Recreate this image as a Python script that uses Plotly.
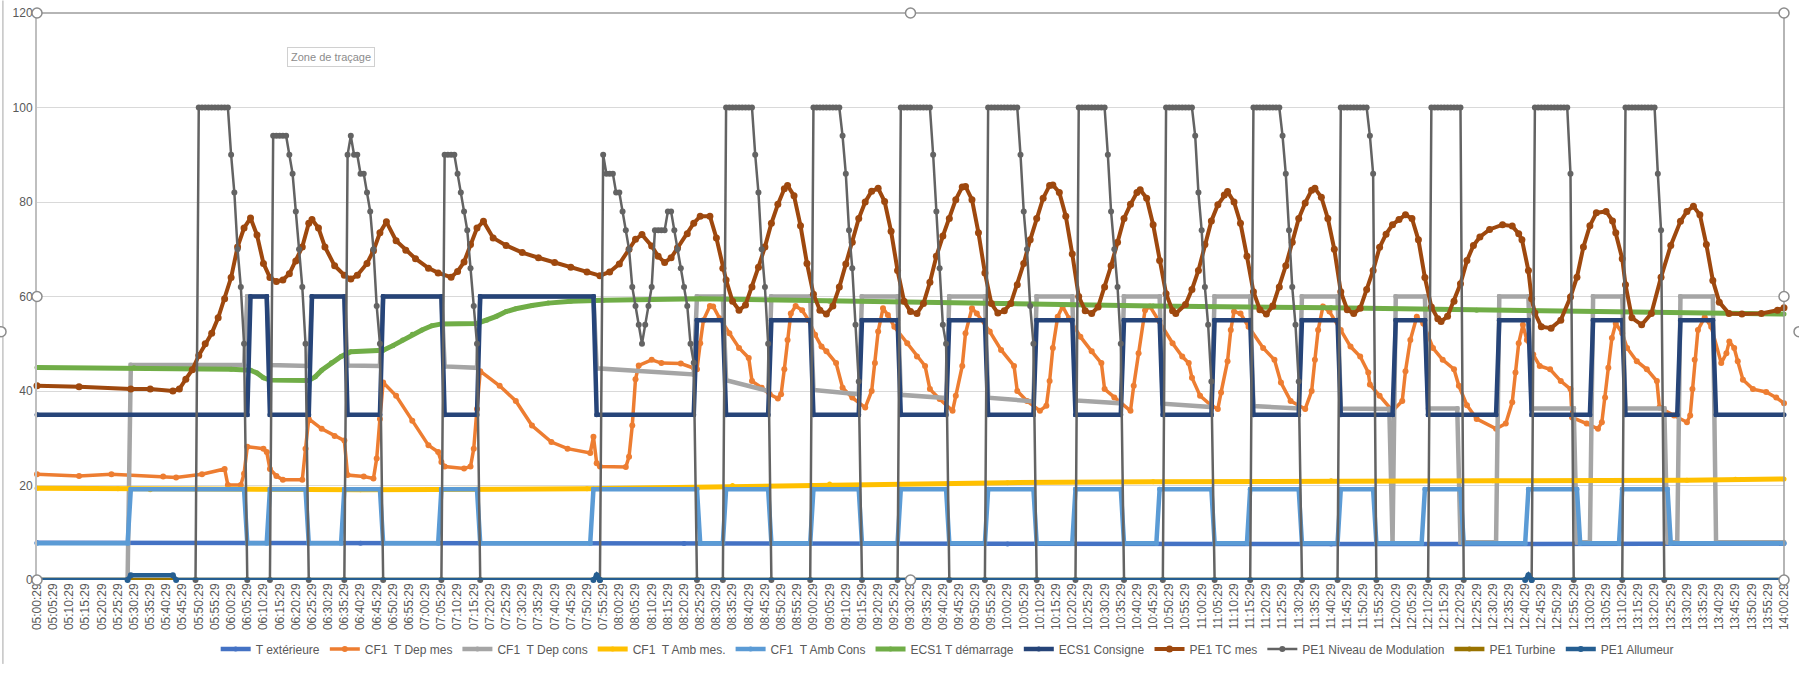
"""Courbes chaufferie 05:00 -> 14:00, rendu type Excel avec Plotly."""
import plotly.graph_objects as go

# ── Axe des temps : minutes depuis 05:00:29, une etiquette toutes les 5 min ──
T_MAX = 540
tick_minutes = list(range(0, T_MAX + 1, 5))
tick_labels = [f"{5 + m // 60:02d}:{m % 60:02d}:29" for m in tick_minutes]

# ── Donnees (t en minutes, valeurs en °C / %) ──
text_t = [0, 100, 200, 300, 400, 540]
text_v = [7.9, 7.8, 7.7, 7.6, 7.6, 7.7]

dep_mes_t = [0, 13, 23, 39, 43, 51, 58, 59, 63, 64, 65, 70, 71, 72, 74, 76, 82, 83, 84, 88,
             92, 95, 96, 101, 104, 105, 106, 107, 111, 116, 121, 124, 125, 126, 132, 134, 135,
             136, 137, 143, 148, 153, 159, 164, 171, 172, 173, 174, 182, 183, 184, 185, 186,
             190, 193, 199, 203, 204, 205, 206, 208, 209, 211, 214, 217, 220, 221, 224, 226.5,
             229, 230, 231, 232, 233, 234.5, 236.5, 238.5, 240.5, 242.5, 244, 247, 249, 252,
             256, 258, 259, 260, 261.5, 263, 265, 269, 272, 274.5, 276, 279, 283, 284, 286, 287,
             289, 290.5, 294.5, 298, 302, 303, 306, 310, 312, 313, 314, 315.5, 317, 319, 322.5,
             326, 329, 330, 333, 338, 339, 340.5, 342.5, 344, 347, 351, 354, 356, 357, 359.5,
             363, 365, 366, 368, 369, 370, 372, 374.5, 379, 382.5, 384.5, 387.5, 392, 394, 395,
             396, 397.5, 399.5, 403, 406, 409, 411.5, 412, 415, 419, 422, 423, 424.5, 426.5,
             428.5, 431.5, 434.5, 438, 439.5, 442, 445, 451, 454, 456, 457, 458, 459.3, 460.5,
             462.5, 464.5, 467.7, 471, 474, 474.5, 479, 482.5, 483.7, 484.7, 485.7, 486.8, 488,
             490, 491.5, 494.5, 497.6, 500.7, 501.5, 506, 510, 511, 511.7, 512.4, 513.4, 515.5,
             517.5, 520.6, 522.2, 523.1, 524.6, 525.7, 527.3, 530.4, 534.5, 537.6, 540]
dep_mes_v = [22.4, 22.0, 22.4, 21.9, 21.7, 22.4, 23.5, 20.1, 20.1, 22.5, 28.2, 27.8, 27.1, 23.5,
             22.0, 21.2, 21.2, 27.8, 34.1, 32.0, 30.5, 29.5, 22.2, 21.9, 21.5, 25.7, 34.1, 41.8,
             39.0, 33.7, 28.5, 27.1, 25.0, 24.0, 23.6, 24.0, 27.8, 36.2, 44.2, 41.1, 37.9, 32.7,
             29.2, 27.8, 26.9, 30.3, 24.7, 24.0, 23.9, 26.1, 32.7, 42.5, 45.4, 46.6, 45.9, 45.8,
             44.9, 44.6, 50.1, 55.0, 58.0, 57.9, 55.4, 52.2, 49.1, 47.0, 42.1, 40.7, 39.3, 38.4,
             39.3, 44.6, 50.8, 56.4, 58.0, 57.1, 55.0, 51.9, 49.4, 48.4, 45.9, 40.7, 38.6, 36.5,
             40.0, 45.9, 52.6, 57.5, 56.1, 53.6, 50.1, 47.3, 45.3, 40.4, 38.3, 35.8, 39.0, 45.3,
             52.2, 57.5, 56.4, 52.6, 48.7, 45.3, 40.0, 37.9, 35.8, 36.9, 42.1, 49.1, 55.7, 57.9,
             55.4, 51.5, 48.4, 45.9, 40.4, 38.6, 35.8, 41.1, 48.0, 57.1, 57.9, 54.7, 50.1, 47.3,
             45.9, 42.8, 39.0, 36.9, 36.2, 39.7, 46.3, 52.9, 56.8, 56.4, 53.6, 49.1, 46.6, 41.8,
             37.9, 36.2, 40.0, 46.6, 52.9, 57.9, 56.8, 52.9, 49.4, 47.3, 43.9, 41.4, 39.0, 35.8,
             37.9, 44.2, 50.8, 55.7, 54.3, 49.1, 46.6, 44.6, 41.1, 37.0, 34.1, 32.0, 33.1, 37.6,
             43.9, 50.1, 54.0, 50.8, 47.7, 45.3, 44.6, 42.1, 40.4, 34.4, 33.1, 32.0, 33.4, 38.6,
             44.9, 51.2, 54.3, 52.2, 49.1, 46.3, 44.6, 42.1, 36.5, 34.8, 33.4, 34.8, 40.4, 46.6,
             52.9, 55.6, 53.6, 45.9, 48.0, 50.5, 49.1, 46.3, 42.4, 40.4, 39.8, 38.6, 37.4]

# consigne de depart : paliers (debut, fin, valeur debut, valeur fin)
dep_cons_start = [0, 29, 65, 72, 85, 96, 107, 126, 137, 173, 204, 213, 227, 240, 255, 267, 282,
                  294, 309, 321, 336, 348, 364, 376, 391, 403, 419, 420, 430, 440, 452, 462,
                  476, 481, 491, 504, 508, 519]
dep_cons_end = [28, 64, 71, 84, 95, 106, 125, 136, 172, 203, 212, 226, 239, 254, 266, 281, 293,
                308, 320, 335, 347, 363, 375, 390, 402, 418, 419, 429, 439, 451, 461, 475, 480,
                490, 503, 507, 518, 540]
dep_cons_v0 = [0, 45.5, 60, 45.5, 60, 45.4, 60, 45.2, 60, 44.8, 60, 42.3, 60, 40.2, 60, 39.2,
               60, 38.6, 60, 38.0, 60, 37.3, 60, 36.8, 60, 36.3, 8, 60, 36.3, 8, 60, 36.3, 8,
               60, 36.3, 8, 60, 8]
dep_cons_v1 = [0, 45.5, 60, 45.3, 60, 45.3, 60, 44.9, 60, 43.5, 60, 40.0, 60, 39.3, 60, 38.5,
               60, 37.8, 60, 37.4, 60, 36.6, 60, 36.3, 60, 36.2, 8, 60, 36.3, 8, 60, 36.3, 8,
               60, 36.3, 8, 60, 8]

amb_mes_t = [0, 25, 35, 100, 170, 200, 215, 245, 300, 345, 400, 450, 510, 525, 540]
amb_mes_v = [19.4, 19.3, 19.1, 19.1, 19.3, 19.6, 20.0, 20.3, 20.6, 20.8, 21.0, 21.0, 21.1,
             21.3, 21.4]

amb_cons_start = [0, 29, 65, 72, 84, 95, 107, 125, 137, 172, 205, 213, 227, 240, 255, 267,
                  282, 294, 309, 321, 336, 347, 364, 375, 391, 403, 414, 429, 441, 461, 477,
                  490, 505]
amb_cons_end = [28, 64, 71, 83, 94, 106, 124, 136, 171, 204, 212, 226, 239, 254, 266, 281,
                293, 308, 320, 335, 346, 363, 374, 390, 402, 413, 428, 440, 460, 476, 489,
                504, 540]
amb_cons_val = [7.8, 19.2, 7.8, 19.2, 7.8, 19.2, 7.8, 19.2, 7.8, 19.2, 7.8, 19.2, 7.8, 19.2,
                7.8, 19.2, 7.8, 19.2, 7.8, 19.2, 7.8, 19.2, 7.8, 19.2, 7.8, 19.2, 7.8, 19.2,
                7.8, 19.2, 7.8, 19.2, 7.8]

ecs_dem_t = [0, 30, 60, 66, 68, 70, 72, 84, 86, 88, 91, 94, 97, 107, 110, 113, 116, 119, 122,
             125, 136, 139, 142, 145, 148, 153, 158, 165, 175, 205, 245, 300, 345, 400, 445,
             500, 540]
ecs_dem_v = [45.0, 44.9, 44.6, 44.4, 43.8, 42.8, 42.3, 42.2, 43.0, 44.4, 46.0, 47.3, 48.3,
             48.6, 49.6, 50.8, 52.0, 52.9, 53.8, 54.2, 54.3, 55.0, 55.8, 56.8, 57.4, 58.1,
             58.6, 59.0, 59.2, 59.5, 59.0, 58.5, 58.0, 57.6, 57.1, 56.7, 56.3]

ecs_cons_start = [0, 66, 72, 85, 96, 107, 126, 137, 173, 204, 213, 227, 240, 255, 267, 282,
                  294, 309, 321, 336, 348, 364, 376, 391, 403, 420, 430, 452, 462, 481, 491,
                  508, 519]
ecs_cons_end = [65, 71, 84, 95, 106, 125, 136, 172, 203, 212, 226, 239, 254, 266, 281, 293,
                308, 320, 335, 347, 363, 375, 390, 402, 419, 429, 451, 461, 480, 490, 507,
                518, 540]
ecs_cons_val = [35, 60, 35, 60, 35, 60, 35, 60, 35, 55, 35, 55, 35, 55, 35, 55, 35, 55, 35,
                55, 35, 55, 35, 55, 35, 55, 35, 55, 35, 55, 35, 55, 35]

tc_t = [0, 13, 29, 35, 42, 44, 46, 48, 50, 52, 54, 56, 58, 60, 62, 64, 66, 68, 70, 72, 74, 76,
        78, 80, 82, 84, 85, 87, 89, 92, 95, 97, 99, 102, 104, 106, 108, 111, 114, 117, 121,
        124, 128, 130, 132, 134, 136, 138, 141, 145, 150, 155, 160, 165, 170, 174, 177, 180,
        183, 185, 187, 190, 192, 194, 196, 198, 201, 203, 205, 208, 210, 212, 213, 215, 217,
        219, 221, 223, 225, 227, 229, 231, 232, 234, 236, 238, 240, 242, 244, 246, 248, 250,
        252, 254, 256, 258, 260, 262, 264, 266, 268, 270, 272, 274, 276, 278, 280, 282, 284,
        286, 287, 289, 291, 293, 295, 297, 299, 301, 303, 305, 307, 309, 311, 313, 314, 316,
        318, 320, 322, 324, 326, 328, 330, 332, 334, 336, 338, 340, 341, 343, 345, 347, 349,
        351, 352, 355, 357, 359, 361, 363, 365, 367, 368, 370, 372, 374, 376, 378, 380, 382,
        384, 386, 388, 390, 392, 394, 395, 397, 399, 401, 403, 405, 407, 409, 411, 413, 415,
        417, 419, 421, 423, 425, 427, 429, 431, 433, 434, 436, 438, 440, 442, 444, 446, 449,
        453, 456, 458, 459, 461, 462, 463, 465, 468, 471, 474, 476, 478, 480, 482, 485, 487,
        488, 490, 491, 493, 496, 499, 502, 505, 508, 510, 512, 514, 516, 518, 520, 523, 527,
        533, 538, 540]
tc_v = [41.1, 40.9, 40.4, 40.4, 40.0, 40.4, 42.5, 44.5, 47.5, 50.0, 52.2, 55.5, 59.5, 64.0,
        70.5, 74.5, 76.6, 73.0, 67.0, 64.0, 63.2, 63.5, 64.8, 67.5, 70.5, 75.5, 76.3, 74.5,
        70.5, 66.5, 64.5, 63.7, 64.5, 67.0, 69.7, 73.5, 75.8, 71.8, 69.8, 68.0, 66.0, 65.0,
        64.1, 65.3, 67.3, 71.0, 74.5, 75.9, 72.4, 70.8, 69.3, 68.2, 67.2, 66.2, 65.2, 64.4,
        65.2, 66.9, 70.0, 72.1, 73.1, 70.7, 68.5, 67.2, 68.2, 70.3, 73.3, 75.5, 77.0, 77.0,
        72.4, 66.0, 63.5, 59.0, 57.1, 58.2, 62.0, 66.2, 70.5, 75.5, 79.5, 82.8, 83.5, 81.3,
        75.0, 67.0, 60.5, 57.1, 56.3, 58.0, 62.0, 66.9, 71.5, 76.5, 80.0, 82.3, 82.9, 80.1,
        73.8, 65.5, 59.0, 56.8, 56.4, 58.5, 63.0, 68.5, 72.8, 76.5, 80.5, 83.2, 83.3, 80.5,
        73.5, 65.0, 58.5, 56.5, 57.0, 58.5, 62.5, 67.0, 72.0, 76.5, 80.8, 83.5, 83.6, 82.0,
        77.0, 69.0, 60.0, 57.0, 56.4, 57.8, 62.0, 66.5, 71.5, 76.5, 79.5, 82.0, 82.6, 80.8,
        75.2, 67.6, 60.6, 57.0, 56.4, 58.3, 61.5, 65.5, 71.0, 76.0, 79.4, 81.5, 82.2, 80.0,
        75.5, 68.5, 61.0, 57.2, 56.3, 58.0, 62.0, 66.5, 71.5, 76.5, 79.8, 82.5, 82.9, 81.0,
        76.5, 70.0, 61.0, 57.2, 56.4, 57.5, 61.5, 65.5, 70.4, 73.2, 75.2, 76.3, 77.3, 76.5,
        72.0, 64.0, 57.8, 55.3, 54.7, 55.8, 59.0, 62.7, 67.6, 70.8, 72.6, 74.2, 75.2, 74.9,
        73.3, 72.0, 65.5, 59.5, 56.5, 53.6, 53.3, 55.0, 59.9, 64.1, 70.5, 75.0, 77.7, 78.0,
        76.0, 73.5, 68.0, 62.5, 55.5, 54.0, 56.4, 64.1, 70.8, 75.9, 78.0, 79.1, 77.3, 71.0,
        63.4, 58.8, 56.4, 56.3, 56.4, 57.1, 57.6]

# niveau de modulation : minute de demarrage + valeurs lues minute par minute
mod_start = [50, 73, 96, 126, 175, 213, 240, 267, 294, 322, 349, 376, 403, 431, 463, 491]
mod_vals = [
    [100, 100, 100, 100, 100, 100, 100, 100, 100, 100, 90, 82, 70, 62, 50],
    [94, 94, 94, 94, 94, 90, 86, 78, 70, 62, 50],
    [90, 94, 90, 90, 86, 86, 82, 78, 70, 58, 50],
    [90, 90, 90, 90, 86, 82, 78, 74, 66, 58, 50],
    [90, 86, 86, 86, 82, 82, 78, 74, 70, 62, 58, 54, 50, 54, 58, 62, 74, 74, 74, 74, 78, 78,
     74, 70, 66, 62, 58, 50, 46],
    [100, 100, 100, 100, 100, 100, 100, 100, 100, 90, 82, 70, 62, 50],
    [100, 100, 100, 100, 100, 100, 100, 100, 100, 94, 86, 74, 66, 54, 42],
    [100, 100, 100, 100, 100, 100, 100, 100, 100, 100, 90, 78, 66, 54, 50],
    [100, 100, 100, 100, 100, 100, 100, 100, 100, 100, 90, 78, 70, 58, 50],
    [100, 100, 100, 100, 100, 100, 100, 100, 100, 90, 78, 70, 62, 50],
    [100, 100, 100, 100, 100, 100, 100, 100, 100, 94, 82, 74, 62, 54, 42],
    [100, 100, 100, 100, 100, 100, 100, 100, 100, 94, 86, 74, 62, 54, 42],
    [100, 100, 100, 100, 100, 100, 100, 100, 100, 94, 86],
    [100, 100, 100, 100, 100, 100, 100, 100, 100, 100],
    [100, 100, 100, 100, 100, 100, 100, 100, 100, 100, 100, 86],
    [100, 100, 100, 100, 100, 100, 100, 100, 100, 100, 86, 74],
]

turbine_t = [0, 540]
turbine_v = [0, 0]

allumeur_t = [0, 28, 29, 42, 43, 172, 173, 174, 460, 461, 462, 540]
allumeur_v = [0, 0, 1, 1, 0, 0, 1, 0, 0, 1, 0, 0]


def paliers(debuts, fins, v0, v1=None):
    """Transforme des paliers lus (debut, fin, valeur) en points x/y."""
    v1 = v1 or v0
    xs, ys = [], []
    for d, f, a, b in zip(debuts, fins, v0, v1):
        xs += [d, f]
        ys += [a, b]
    return xs, ys


def cycles_modulation(debuts, valeurs):
    xs, ys = [0], [0]
    for d, vals in zip(debuts, valeurs):
        xs.append(d - 1)
        ys.append(0)
        xs += [d + i for i in range(len(vals))]
        ys += vals
        xs.append(d + len(vals))
        ys.append(0)
    xs.append(T_MAX)
    ys.append(0)
    return xs, ys


dep_cons_x, dep_cons_y = paliers(dep_cons_start, dep_cons_end, dep_cons_v0, dep_cons_v1)
amb_cons_x, amb_cons_y = paliers(amb_cons_start, amb_cons_end, amb_cons_val)
ecs_cons_x, ecs_cons_y = paliers(ecs_cons_start, ecs_cons_end, ecs_cons_val)
mod_x, mod_y = cycles_modulation(mod_start, mod_vals)

# (nom, x, y, couleur, epaisseur, taille marqueur)
SERIES = [
    ("T extérieure", text_t, text_v, "#4472C4", 4.5, 5),
    ("CF1\u00a0 T Dep mes", dep_mes_t, dep_mes_v, "#ED7D31", 3.5, 6),
    ("CF1\u00a0 T Dep cons", dep_cons_x, dep_cons_y, "#A5A5A5", 4.5, 5),
    ("CF1\u00a0 T Amb mes.", amb_mes_t, amb_mes_v, "#FFC000", 5, 5),
    ("CF1\u00a0 T Amb Cons", amb_cons_x, amb_cons_y, "#5B9BD5", 4.5, 5),
    ("ECS1 T démarrage", ecs_dem_t, ecs_dem_v, "#70AD47", 5, 5),
    ("ECS1 Consigne", ecs_cons_x, ecs_cons_y, "#264478", 4.5, 5),
    ("PE1 TC mes", tc_t, tc_v, "#9E480E", 4, 7),
    ("PE1 Niveau de Modulation", mod_x, mod_y, "#636363", 2.5, 6),
    ("PE1 Turbine", turbine_t, turbine_v, "#997300", 4.5, 5),
    ("PE1 Allumeur", allumeur_t, allumeur_v, "#255E91", 4.5, 6),
]

fig = go.Figure()
for nom, xs, ys, couleur, ep, taille in SERIES:
    fig.add_trace(go.Scatter(
        x=xs, y=ys, name=nom, mode="lines+markers",
        line=dict(color=couleur, width=ep),
        marker=dict(color=couleur, size=taille),
        cliponaxis=False,
    ))

GRIS_TXT = "#595959"
POLICE = "Liberation Sans"

fig.update_layout(
    width=1799, height=675,
    margin=dict(l=37, r=15, t=13, b=89),
    paper_bgcolor="white", plot_bgcolor="white",
    font=dict(family=POLICE, size=12, color=GRIS_TXT),
    showlegend=True,
    legend=dict(
        orientation="h", x=0.521, xanchor="center", y=-0.1215, yanchor="middle",
        font=dict(size=12, color=GRIS_TXT), itemwidth=30, traceorder="normal",
    ),
)
fig.update_xaxes(
    range=[0, T_MAX], tickmode="array", tickvals=tick_minutes, ticktext=tick_labels,
    tickangle=-90, tickfont=dict(size=12, color=GRIS_TXT), showgrid=False,
    zeroline=False, showline=False, ticks="", automargin=False,
)
fig.update_yaxes(
    range=[0, 120], dtick=20, tickfont=dict(size=12, color=GRIS_TXT),
    showgrid=True, gridcolor="#D9D9D9", gridwidth=1, zeroline=False,
    showline=True, linecolor="#BFBFBF", linewidth=2, ticks="", automargin=False,
)

# cadre de selection de la zone de tracage (bord haut et droit)
fig.add_shape(type="line", xref="paper", yref="paper", x0=0, x1=1, y0=1, y1=1,
              line=dict(color="#9C9C9C", width=1.5), layer="above")
fig.add_shape(type="line", xref="paper", yref="paper", x0=1, x1=1, y0=0, y1=1,
              line=dict(color="#9C9C9C", width=1.5), layer="above")
# bord gauche de la zone de graphique
fig.add_shape(type="line", xref="paper", yref="paper", x0=-0.0195, x1=-0.0195,
              y0=1.022, y1=-0.148, line=dict(color="#A6A6A6", width=1), layer="above")

# poignees de selection (zone de tracage)
for px in (0, 0.5, 1):
    for py in (0, 0.5, 1):
        if px == 0.5 and py == 0.5:
            continue
        fig.add_shape(type="circle", xref="paper", yref="paper",
                      xsizemode="pixel", ysizemode="pixel", xanchor=px, yanchor=py,
                      x0=-5, x1=5, y0=-5, y1=5,
                      fillcolor="white", line=dict(color="#8C8C8C", width=1.5),
                      layer="above")
# poignees de la zone de graphique (coupees par le bord)
for px, py in ((-0.0206, 0.438), (1.0086, 0.438)):
    fig.add_shape(type="circle", xref="paper", yref="paper",
                  xsizemode="pixel", ysizemode="pixel", xanchor=px, yanchor=py,
                  x0=-5, x1=5, y0=-5, y1=5,
                  fillcolor="white", line=dict(color="#8C8C8C", width=1.5),
                  layer="above")

fig.add_annotation(
    text="Zone de traçage", xref="paper", yref="paper", x=0.143, y=0.940,
    showarrow=False, font=dict(family=POLICE, size=11, color="#8C8C8C"),
    bgcolor="white", bordercolor="#D0D0D0", borderwidth=1, borderpad=3,
)

fig.write_html("out.html", config={"displayModeBar": False},
               post_script="document.body.style.margin='0px';")
